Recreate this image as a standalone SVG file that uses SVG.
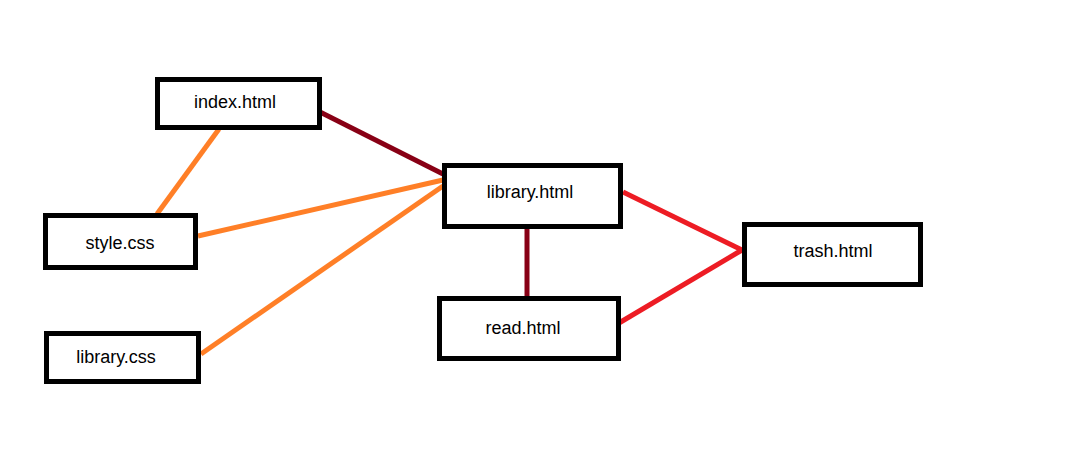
<svg xmlns="http://www.w3.org/2000/svg" width="1086" height="472" viewBox="0 0 1086 472">
<style>
.box{fill:#fff;stroke:#000;stroke-width:5}
.lbl{font-family:"Liberation Sans",Arial,sans-serif;font-size:18px;fill:#000;text-anchor:middle}
.c{stroke-width:5;stroke-linecap:butt;fill:none}
.o{stroke:#ff7f27}
.d{stroke:#880015}
.r{stroke:#ed1c24}
</style>
<rect width="1086" height="472" fill="#fff"/>
<g id="connectors">
<line class="c d" x1="320" y1="112" x2="443" y2="174"/>
<line class="c o" x1="219" y1="129" x2="157" y2="214"/>
<line class="c o" x1="198" y1="236" x2="443" y2="180"/>
<line class="c o" x1="201" y1="354" x2="443" y2="186"/>
<line class="c d" x1="527" y1="229" x2="527" y2="296"/>
<line class="c r" x1="623" y1="192" x2="742" y2="250"/>
<line class="c r" x1="619" y1="323" x2="742" y2="250"/>
</g>
<g id="index"><rect class="box" x="157.5" y="79.5" width="162" height="48"/><text class="lbl" x="235" y="108">index.html</text></g>
<g id="style"><rect class="box" x="45.5" y="215.5" width="150" height="52"/><text class="lbl" x="120" y="249">style.css</text></g>
<g id="librarycss"><rect class="box" x="46.5" y="333.5" width="152" height="48"/><text class="lbl" x="116" y="363">library.css</text></g>
<g id="library"><rect class="box" x="444.5" y="165.5" width="176" height="61"/><text class="lbl" x="530" y="198">library.html</text></g>
<g id="read"><rect class="box" x="439.5" y="298.5" width="179" height="60"/><text class="lbl" x="523" y="334">read.html</text></g>
<g id="trash"><rect class="box" x="744.5" y="224.5" width="176" height="60"/><text class="lbl" x="833" y="257">trash.html</text></g>
</svg>
